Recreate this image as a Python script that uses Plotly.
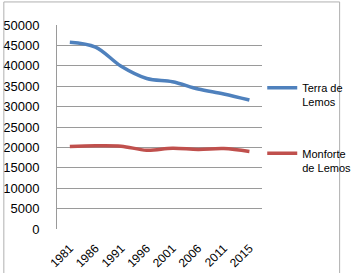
import plotly.graph_objects as go

years = ["1981", "1986", "1991", "1996", "2001", "2006", "2011", "2015"]
terra_de_lemos = [45800, 44600, 39900, 36900, 36100, 34300, 33100, 31600]
monforte_de_lemos = [20200, 20400, 20300, 19300, 19800, 19500, 19700, 19000]
y_ticks = [0, 5000, 10000, 15000, 20000, 25000, 30000, 35000, 40000, 45000, 50000]

fig = go.Figure()
fig.add_trace(go.Scatter(x=years, y=terra_de_lemos, mode="lines", name="Terra de<br>Lemos",
                         line=dict(color="#4F81BD", width=3.5, shape="spline"), legendgroup="a"))
fig.add_trace(go.Scatter(x=years, y=monforte_de_lemos, mode="lines", name="Monforte<br>de Lemos",
                         line=dict(color="#C0504D", width=3.5, shape="spline"), legendgroup="b"))

fig.update_layout(
    width=352, height=273,
    margin=dict(l=57, r=83, t=25, b=44),
    paper_bgcolor="white", plot_bgcolor="white",
    font=dict(family="Liberation Sans", size=13, color="#000000"),
    showlegend=True,
    legend=dict(xref="container", yref="container", x=0.745, y=1 - 74 / 273,
                xanchor="left", yanchor="top", valign="top",
                font=dict(size=11), itemwidth=30, tracegroupgap=34,
                bgcolor="rgba(0,0,0,0)"),
    xaxis=dict(type="category", tickangle=-45, showgrid=False, showline=False,
               ticks="", range=[-0.5, 7.5], fixedrange=True, ticklabelstandoff=9,
               automargin=False, tickfont=dict(size=12)),
    yaxis=dict(range=[0, 50000], tickvals=y_ticks, ticktext=[str(v) for v in y_ticks],
               showgrid=True, gridcolor="#9A9A9A",
               gridwidth=1, showline=True, linecolor="#9A9A9A", ticks="", zeroline=False,
               ticklabelstandoff=14, automargin=False),
    shapes=[dict(type="rect", xref="paper", yref="paper", x0=-0.259, x1=1.377,
                 y0=-0.3, y1=1.113, line=dict(color="#B0B0B0", width=1))],
)
fig.write_html("out.html")
